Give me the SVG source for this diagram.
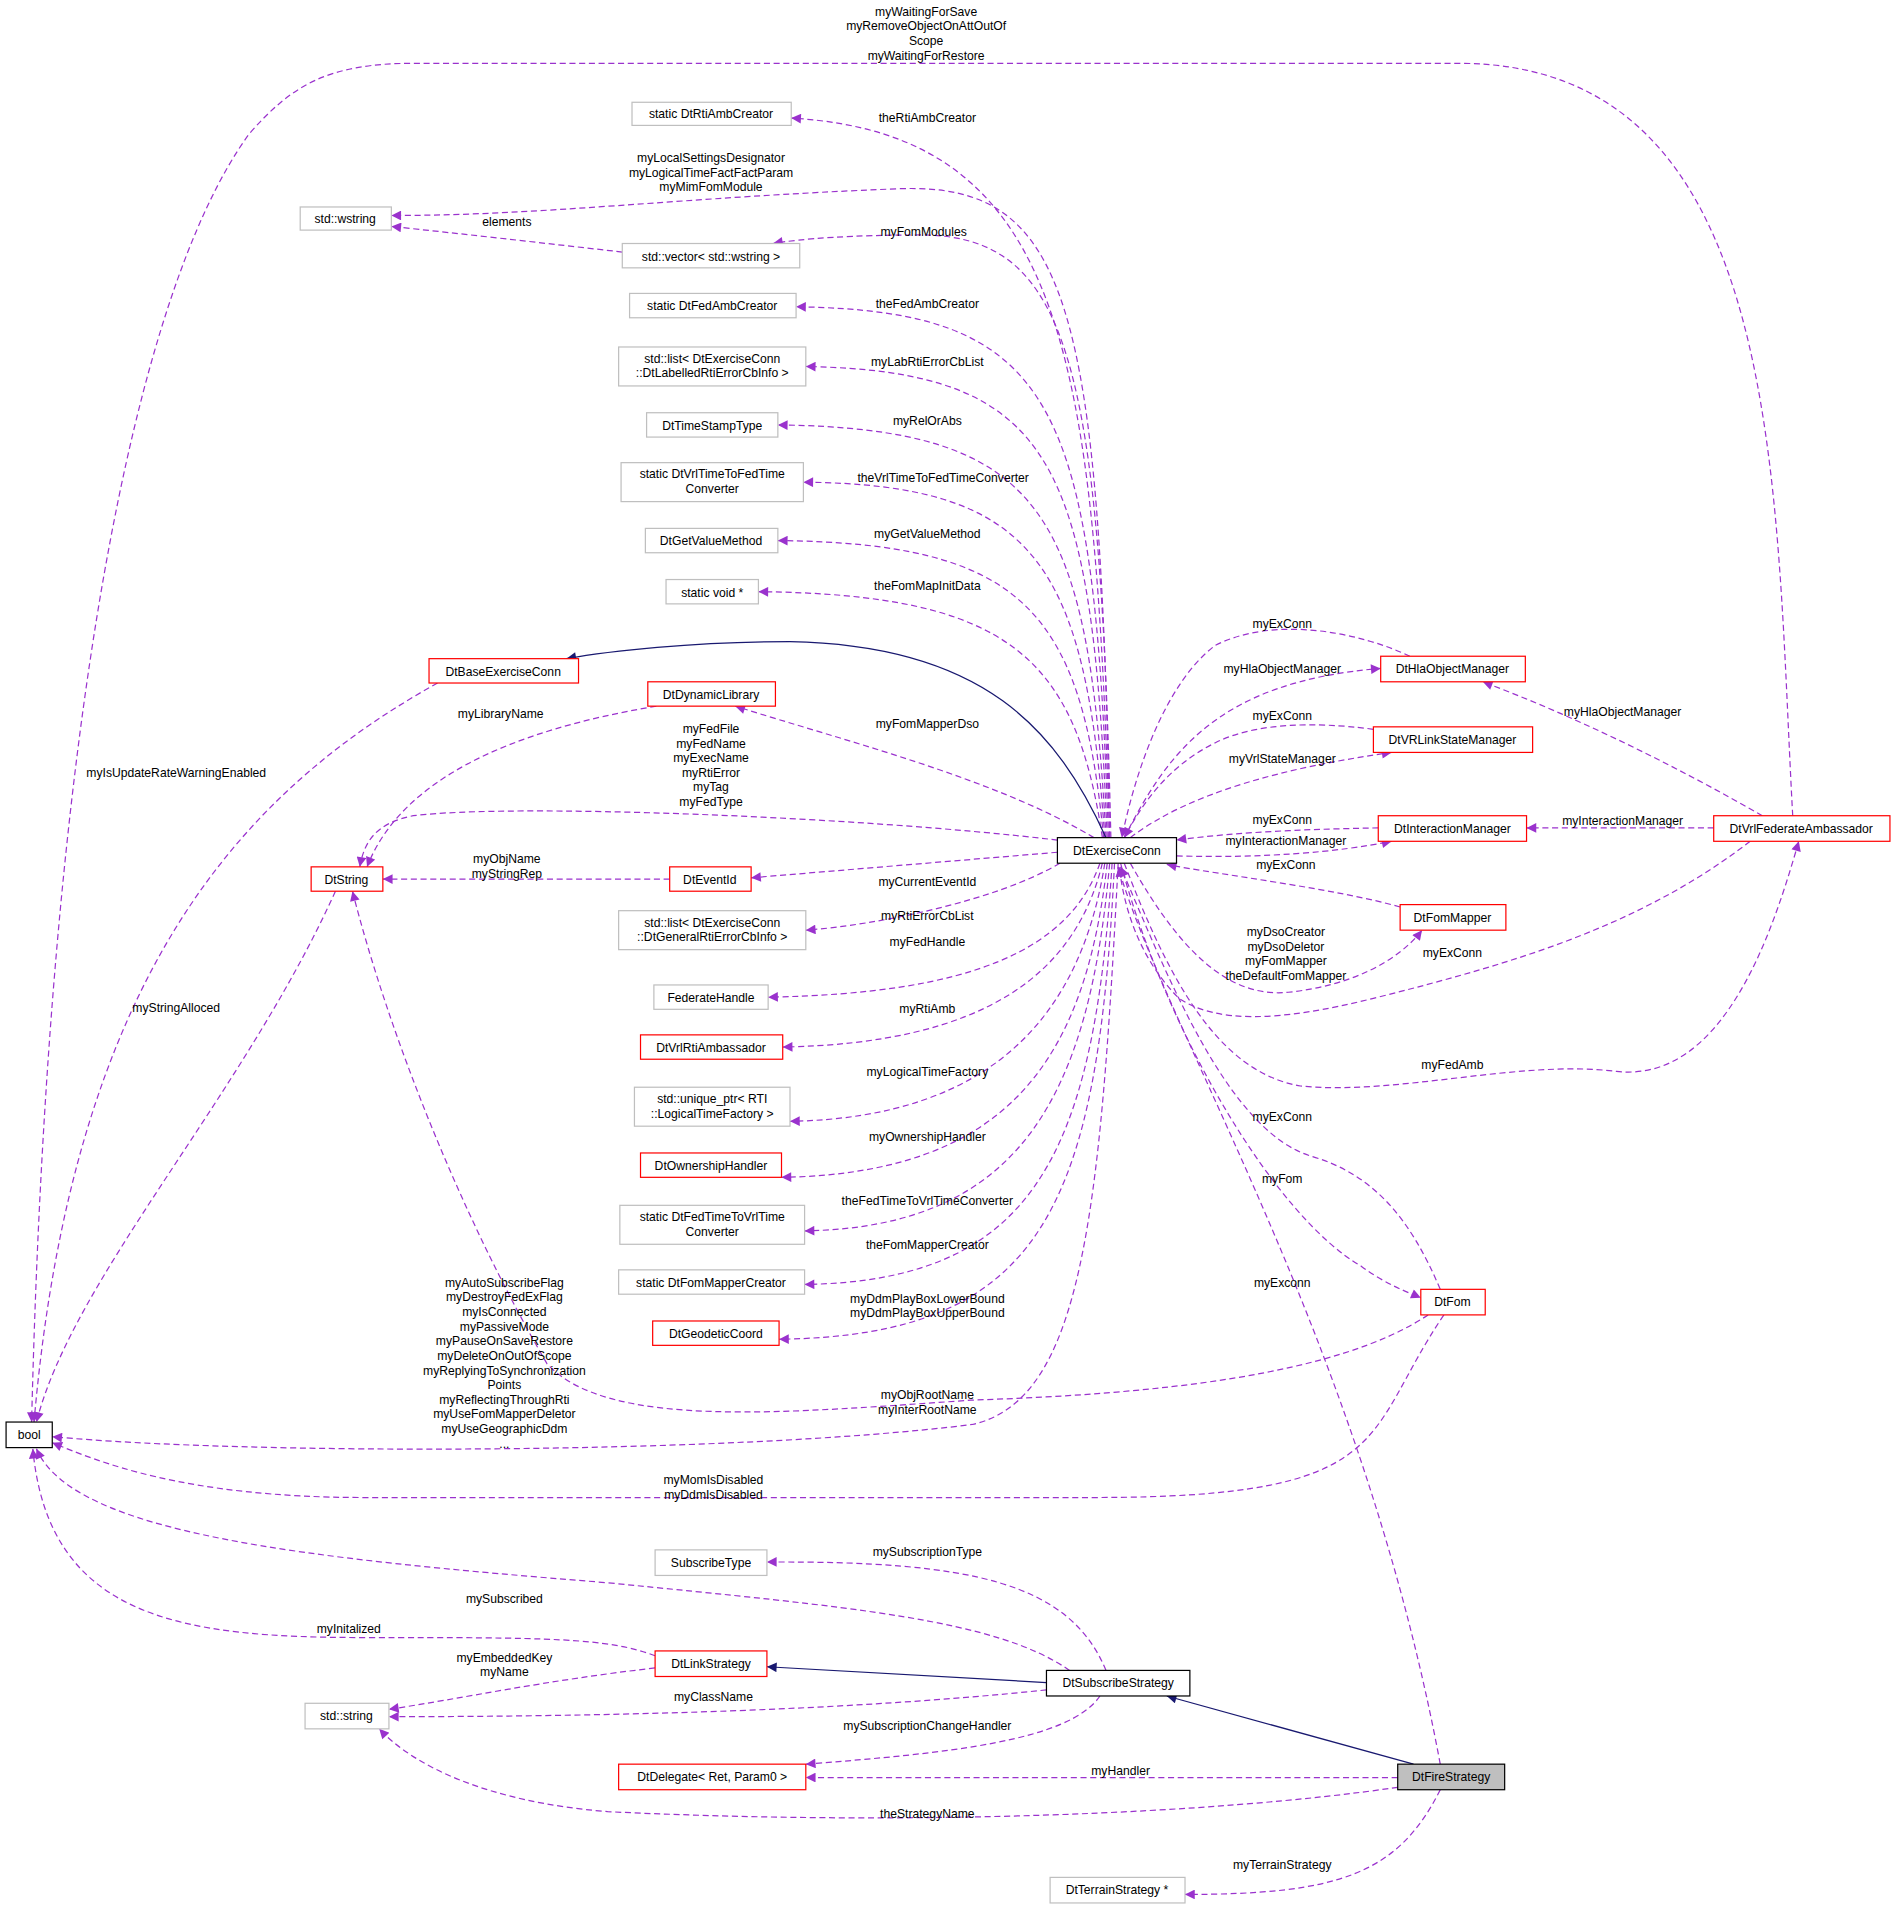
<svg xmlns="http://www.w3.org/2000/svg" width="1896" height="1909" viewBox="0 0 1896 1909">
<style>
text{font-family:"Liberation Sans",Arial,sans-serif;font-size:10px;fill:#000;text-anchor:middle}
.n rect{fill:#fff;stroke-width:1}
.r rect{stroke:#ff0000}
.g rect{stroke:#bfbfbf}
.k rect{stroke:#000}
.e path{fill:none;stroke:#9a32cd;stroke-dasharray:5,3;marker-end:url(#pa)}
.e path.i{stroke:#191970;stroke-dasharray:none;marker-end:url(#na)}
</style>
<defs>
<marker id="pa" viewBox="0 0 10 10" refX="10" refY="5" markerUnits="userSpaceOnUse" markerWidth="10" markerHeight="8" orient="auto"><path d="M0,0 L10,5 L0,10 z" fill="#9a32cd"/></marker>
<marker id="na" viewBox="0 0 10 10" refX="10" refY="5" markerUnits="userSpaceOnUse" markerWidth="10" markerHeight="8" orient="auto"><path d="M0,0 L10,5 L0,10 z" fill="#191970"/></marker>
</defs>
<rect width="1896" height="1909" fill="#fff"/>
<g transform="scale(1.2154,1.2175)">
<g id="connectors" class="e">
<path d="M913,688 C900,300 880,110 651,97"/>
<path d="M913,688 C905,250 880,150 740,155 C560,162 450,177 322,177"/>
<path d="M914,688 C905,300 880,195 760,193 C700,193 660,196 636,200"/>
<path d="M912,688 C900,330 870,255 655,252"/>
<path d="M911,688 C898,380 870,305 663,301"/>
<path d="M910,688 C895,420 860,352 640,349"/>
<path d="M909,688 C893,460 850,398 661,396"/>
<path d="M908,688 C890,500 840,446 640,444"/>
<path d="M907,688 C885,540 830,488 624,486"/>
<path d="M900,688 C820,640 700,610 605,580"/>
<path d="M870,690 C700,670 420,660 340,670 C310,676 300,690 296,712"/>
<path d="M870,700 L618,721"/>
<path d="M872,709 C820,740 720,760 663,764"/>
<path d="M905,709 C880,780 800,816 632,819"/>
<path d="M907,709 C885,800 810,857 644,860"/>
<path d="M909,709 C890,830 820,918 650,921"/>
<path d="M911,709 C893,870 830,964 643,967"/>
<path d="M913,709 C896,900 840,1008 662,1011"/>
<path d="M915,709 C900,950 850,1052 662,1055"/>
<path d="M917,709 C903,990 860,1097 641,1100"/>
<path d="M920,709 C905,1000 890,1150 800,1170 C600,1195 200,1195 43,1180"/>
<path d="M925,688 C960,620 1000,560 1136,549"/>
<path d="M930,688 C980,650 1060,630 1145,618"/>
<path d="M968,703 C1040,705 1100,700 1145,691"/>
<path d="M930,709 C970,780 1010,820 1060,815 C1110,810 1150,790 1170,764"/>
<path d="M925,709 C960,800 1000,880 1070,892 C1150,900 1250,870 1330,880 C1420,890 1460,760 1480,691"/>
<path d="M922,709 C960,850 1050,1000 1120,1040 C1140,1055 1160,1062 1169,1066"/>
<path d="M1160,539 C1120,520 1050,505 1000,530 C960,560 935,630 923,688"/>
<path d="M1130,599 C1100,595 1040,590 1000,610 C960,630 940,660 925,688"/>
<path d="M1134,680 C1080,681 1020,683 968,690"/>
<path d="M1152,745 C1100,730 1000,718 960,710"/>
<path d="M1440,691 C1350,760 1250,790 1130,820 C1050,840 1000,840 970,820 C940,790 925,750 921,712"/>
<path d="M1185,1059 C1160,1000 1130,965 1080,950 C1010,930 960,800 922,712"/>
<path d="M1185,1449 C1120,1100 960,850 920,712"/>
<path class="i" d="M910,688 C870,600 810,530 650,527 C570,527 500,535 466,541"/>
<path d="M1475,670 C1460,400 1470,52 1200,52 L340,52 C270,52 240,70 205,110 C110,240 40,600 26,1168"/>
<path d="M360,561 C200,650 60,800 28,1168"/>
<path d="M540,580 C420,600 330,640 302,712"/>
<path d="M551,722 L315,722"/>
<path d="M276,732 C200,900 60,1050 30,1168"/>
<path d="M1175,1080 C1100,1130 950,1145 800,1150 C650,1160 500,1175 450,1120 C380,1000 320,850 290,732"/>
<path d="M1188,1080 C1120,1180 1150,1230 900,1230 L300,1230 C150,1230 80,1200 43,1185"/>
<path d="M1450,670 C1380,630 1300,590 1220,560"/>
<path d="M1410,680 L1256,680"/>
<path d="M910,1372 C880,1300 800,1282 631,1283"/>
<path d="M880,1372 C820,1330 700,1320 500,1300 C250,1280 60,1260 30,1190"/>
<path d="M539,1360 C500,1345 450,1345 300,1345 C150,1345 40,1330 27,1190"/>
<path d="M539,1370 C450,1380 380,1395 320,1404"/>
<path d="M861,1388 C700,1405 500,1410 320,1410"/>
<path class="i" d="M861,1382 L631,1369"/>
<path d="M905,1393 C880,1430 780,1440 663,1449"/>
<path class="i" d="M1163,1449 L960,1393"/>
<path d="M1150,1460 L663,1460"/>
<path d="M1150,1468 C1000,1490 750,1500 500,1488 C400,1480 340,1450 312,1420"/>
<path d="M1185,1470 C1150,1540 1100,1556 975,1556"/>
<path d="M512,207 C450,200 380,192 322,186"/>
</g>
<g id="labels">
<text x="762" y="13">myWaitingForSave</text><text x="762" y="25">myRemoveObjectOnAttOutOf</text><text x="762" y="37">Scope</text><text x="762" y="49">myWaitingForRestore</text>
<text x="763" y="100">theRtiAmbCreator</text>
<text x="585" y="133">myLocalSettingsDesignator</text><text x="585" y="145">myLogicalTimeFactFactParam</text><text x="585" y="157">myMimFomModule</text>
<text x="417" y="186">elements</text>
<text x="760" y="194">myFomModules</text>
<text x="763" y="253">theFedAmbCreator</text>
<text x="763" y="301">myLabRtiErrorCbList</text>
<text x="763" y="349">myRelOrAbs</text>
<text x="776" y="396">theVrlTimeToFedTimeConverter</text>
<text x="763" y="442">myGetValueMethod</text>
<text x="763" y="485">theFomMapInitData</text>
<text x="763" y="598">myFomMapperDso</text>
<text x="412" y="590">myLibraryName</text>
<text x="145" y="638">myIsUpdateRateWarningEnabled</text>
<text x="585" y="602">myFedFile</text><text x="585" y="614">myFedName</text><text x="585" y="626">myExecName</text><text x="585" y="638">myRtiError</text><text x="585" y="650">myTag</text><text x="585" y="662">myFedType</text>
<text x="417" y="709">myObjName</text><text x="417" y="721">myStringRep</text>
<text x="763" y="728">myCurrentEventId</text>
<text x="763" y="756">myRtiErrorCbList</text>
<text x="763" y="777">myFedHandle</text>
<text x="145" y="831">myStringAlloced</text>
<text x="763" y="832">myRtiAmb</text>
<text x="763" y="884">myLogicalTimeFactory</text>
<text x="763" y="937">myOwnershipHandler</text>
<text x="763" y="990">theFedTimeToVrlTimeConverter</text>
<text x="763" y="1026">theFomMapperCreator</text>
<text x="763" y="1070">myDdmPlayBoxLowerBound</text><text x="763" y="1082">myDdmPlayBoxUpperBound</text>
<text x="415" y="1057">myAutoSubscribeFlag</text><text x="415" y="1069">myDestroyFedExFlag</text><text x="415" y="1081">myIsConnected</text><text x="415" y="1093">myPassiveMode</text><text x="415" y="1105">myPauseOnSaveRestore</text><text x="415" y="1117">myDeleteOnOutOfScope</text><text x="415" y="1129">myReplyingToSynchronization</text><text x="415" y="1141">Points</text><text x="415" y="1153">myReflectingThroughRti</text><text x="415" y="1165">myUseFomMapperDeletor</text><text x="415" y="1177">myUseGeographicDdm</text><text x="415" y="1189">...</text>
<text x="763" y="1149">myObjRootName</text><text x="763" y="1161">myInterRootName</text>
<text x="587" y="1219">myMomIsDisabled</text><text x="587" y="1231">myDdmIsDisabled</text>
<text x="763" y="1278">mySubscriptionType</text>
<text x="415" y="1317">mySubscribed</text>
<text x="287" y="1341">myInitalized</text>
<text x="415" y="1365">myEmbeddedKey</text><text x="415" y="1377">myName</text>
<text x="587" y="1397">myClassName</text>
<text x="763" y="1421">mySubscriptionChangeHandler</text>
<text x="922" y="1458">myHandler</text>
<text x="763" y="1493">theStrategyName</text>
<text x="1055" y="1535">myTerrainStrategy</text>
<text x="1055" y="1057">myExconn</text>
<text x="1055" y="972">myFom</text>
<text x="1055" y="921">myExConn</text>
<text x="1195" y="878">myFedAmb</text>
<text x="1058" y="769">myDsoCreator</text><text x="1058" y="781">myDsoDeletor</text><text x="1058" y="793">myFomMapper</text><text x="1058" y="805">theDefaultFomMapper</text>
<text x="1195" y="786">myExConn</text>
<text x="1058" y="714">myExConn</text>
<text x="1058" y="694">myInteractionManager</text>
<text x="1055" y="677">myExConn</text>
<text x="1055" y="627">myVrlStateManager</text>
<text x="1055" y="591">myExConn</text>
<text x="1055" y="553">myHlaObjectManager</text>
<text x="1055" y="516">myExConn</text>
<text x="1335" y="588">myHlaObjectManager</text>
<text x="1335" y="678">myInteractionManager</text>
</g>
<g id="n1" class="n g"><rect x="520" y="84" width="131" height="19"/><text x="585" y="97">static DtRtiAmbCreator</text></g>
<g id="n2" class="n g"><rect x="247" y="170" width="75" height="19"/><text x="284" y="183">std::wstring</text></g>
<g id="n3" class="n g"><rect x="512" y="200" width="146" height="20"/><text x="585" y="214">std::vector&lt; std::wstring &gt;</text></g>
<g id="n4" class="n g"><rect x="518" y="241" width="137" height="20"/><text x="586" y="255">static DtFedAmbCreator</text></g>
<g id="n5" class="n g"><rect x="509" y="285" width="154" height="32"/><text x="586" y="298">std::list&lt; DtExerciseConn</text><text x="586" y="310">::DtLabelledRtiErrorCbInfo &gt;</text></g>
<g id="n6" class="n g"><rect x="532" y="339" width="108" height="20"/><text x="586" y="353">DtTimeStampType</text></g>
<g id="n7" class="n g"><rect x="511" y="380" width="150" height="32"/><text x="586" y="393">static DtVrlTimeToFedTime</text><text x="586" y="405">Converter</text></g>
<g id="n8" class="n g"><rect x="531" y="434" width="109" height="20"/><text x="585" y="448">DtGetValueMethod</text></g>
<g id="n9" class="n g"><rect x="548" y="476" width="76" height="20"/><text x="586" y="490">static void *</text></g>
<g id="n10" class="n r"><rect x="353" y="541" width="123" height="20"/><text x="414" y="555">DtBaseExerciseConn</text></g>
<g id="n11" class="n r"><rect x="533" y="560" width="105" height="20"/><text x="585" y="574">DtDynamicLibrary</text></g>
<g id="n12" class="n r"><rect x="256" y="712" width="59" height="20"/><text x="285" y="726">DtString</text></g>
<g id="n13" class="n r"><rect x="551" y="712" width="67" height="20"/><text x="584" y="726">DtEventId</text></g>
<g id="n14" class="n g"><rect x="509" y="748" width="154" height="32"/><text x="586" y="761">std::list&lt; DtExerciseConn</text><text x="586" y="773">::DtGeneralRtiErrorCbInfo &gt;</text></g>
<g id="n15" class="n g"><rect x="538" y="809" width="94" height="20"/><text x="585" y="823">FederateHandle</text></g>
<g id="n16" class="n r"><rect x="527" y="850" width="117" height="20"/><text x="585" y="864">DtVrlRtiAmbassador</text></g>
<g id="n17" class="n g"><rect x="522" y="893" width="128" height="32"/><text x="586" y="906">std::unique_ptr&lt; RTI</text><text x="586" y="918">::LogicalTimeFactory &gt;</text></g>
<g id="n18" class="n r"><rect x="527" y="947" width="116" height="20"/><text x="585" y="961">DtOwnershipHandler</text></g>
<g id="n19" class="n g"><rect x="510" y="990" width="152" height="32"/><text x="586" y="1003">static DtFedTimeToVrlTime</text><text x="586" y="1015">Converter</text></g>
<g id="n20" class="n g"><rect x="509" y="1043" width="153" height="20"/><text x="585" y="1057">static DtFomMapperCreator</text></g>
<g id="n21" class="n r"><rect x="537" y="1085" width="104" height="20"/><text x="589" y="1099">DtGeodeticCoord</text></g>
<g id="n22" class="n k"><rect x="5" y="1168" width="38" height="21"/><text x="24" y="1182">bool</text></g>
<g id="n23" class="n g"><rect x="539" y="1273" width="92" height="21"/><text x="585" y="1287">SubscribeType</text></g>
<g id="n24" class="n r"><rect x="539" y="1356" width="92" height="21"/><text x="585" y="1370">DtLinkStrategy</text></g>
<g id="n25" class="n g"><rect x="251" y="1399" width="69" height="21"/><text x="285" y="1413">std::string</text></g>
<g id="n26" class="n r"><rect x="509" y="1449" width="154" height="21"/><text x="586" y="1463">DtDelegate&lt; Ret, Param0 &gt;</text></g>
<g id="n27" class="n g"><rect x="864" y="1542" width="111" height="21"/><text x="919" y="1556">DtTerrainStrategy *</text></g>
<g id="n28" class="n k"><rect x="861" y="1372" width="118" height="21"/><text x="920" y="1386">DtSubscribeStrategy</text></g>
<g id="n29" class="n"><rect x="1150" y="1449" width="88" height="21" fill="#bfbfbf" stroke="#000" style="fill:#bfbfbf"/><text x="1194" y="1463">DtFireStrategy</text></g>
<g id="n30" class="n k"><rect x="870" y="688" width="98" height="21"/><text x="919" y="702">DtExerciseConn</text></g>
<g id="n31" class="n r"><rect x="1136" y="539" width="119" height="21"/><text x="1195" y="553">DtHlaObjectManager</text></g>
<g id="n32" class="n r"><rect x="1130" y="597" width="131" height="21"/><text x="1195" y="611">DtVRLinkStateManager</text></g>
<g id="n33" class="n r"><rect x="1134" y="670" width="122" height="21"/><text x="1195" y="684">DtInteractionManager</text></g>
<g id="n34" class="n r"><rect x="1410" y="670" width="145" height="21"/><text x="1482" y="684">DtVrlFederateAmbassador</text></g>
<g id="n35" class="n r"><rect x="1152" y="743" width="87" height="21"/><text x="1195" y="757">DtFomMapper</text></g>
<g id="n36" class="n r"><rect x="1169" y="1059" width="53" height="21"/><text x="1195" y="1073">DtFom</text></g>
</g>
</svg>
